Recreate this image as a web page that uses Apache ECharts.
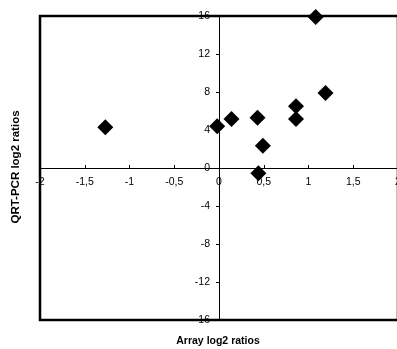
<!DOCTYPE html>
<html>
<head>
    <meta charset="utf-8">
    <title>ECharts</title>
    <script src="https://cdn.jsdelivr.net/npm/echarts/dist/echarts.min.js"></script>
</head>
<body style="margin:0">
    <div id="main" style="width: 397px;height:349px;"></div>
    <script>
        // values
        var arrayRatios = [-1.27, -0.02, 0.14, 0.43, 0.49, 0.44, 0.86, 0.86, 1.19, 1.08];
        var qrtRatios   = [4.3, 4.4, 5.15, 5.3, 2.35, -0.55, 6.5, 5.15, 7.9, 15.9];

        var points = arrayRatios.map(function (x, i) { return [x, qrtRatios[i]]; });

        function comma(v) { return String(v).replace('.', ','); }

        var myChart = echarts.init(document.getElementById('main'));
        var font = 'Liberation Sans, Arial, sans-serif';

        // plot box 40..398 x 16..320, axes cross at its middle
        var option = {
            animation: false,
            grid: {
                left: 40, top: 16, right: -1, bottom: 29,
                containLabel: false, outerBoundsMode: 'none',
                show: true, borderColor: '#000', borderWidth: 2.5, backgroundColor: '#fff'
            },
            xAxis: {
                type: 'value', min: -2, max: 2, interval: 0.5,
                offset: -152,
                axisLine: { onZero: false, lineStyle: { color: '#000', width: 1 } },
                axisTick: { inside: true, length: 3, lineStyle: { color: '#000' } },
                axisLabel: { formatter: comma, color: '#000', fontSize: 10.5, fontFamily: font, margin: 9 },
                splitLine: { show: false }
            },
            yAxis: {
                type: 'value', min: -16, max: 16, interval: 4,
                offset: -179,
                axisLine: { onZero: false, lineStyle: { color: '#000', width: 1 } },
                axisTick: { length: 3, lineStyle: { color: '#000' } },
                axisLabel: { formatter: comma, color: '#000', fontSize: 10.5, fontFamily: font, margin: 9 },
                splitLine: { show: false }
            },
            graphic: [
                {
                    type: 'text', x: 218, y: 341,
                    style: { text: 'Array log2 ratios', font: 'bold 10.5px ' + font, fill: '#000',
                             align: 'center', verticalAlign: 'middle' }
                },
                {
                    type: 'text', x: 16, y: 167, rotation: Math.PI / 2,
                    style: { text: 'QRT-PCR log2 ratios', font: 'bold 11.5px ' + font, fill: '#000',
                             align: 'center', verticalAlign: 'middle' }
                }
            ],
            series: [{
                type: 'scatter',
                data: points,
                symbol: 'diamond',
                symbolSize: 16,
                itemStyle: { color: '#000', opacity: 1 }
            }]
        };

        myChart.setOption(option);
    </script>
</body>
</html>
